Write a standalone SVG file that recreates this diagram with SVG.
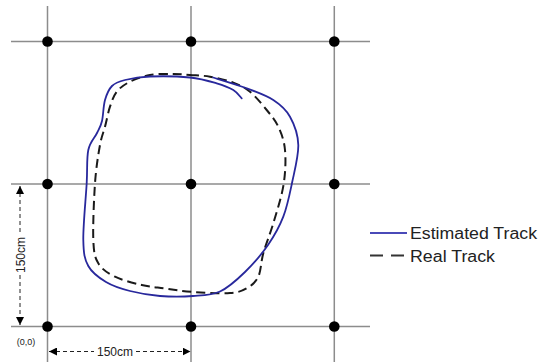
<svg xmlns="http://www.w3.org/2000/svg" width="539" height="362" viewBox="0 0 539 362">
<style>
.grid{stroke:#8c8c8c;stroke-width:1.5;fill:none}
.dot{fill:#000}
.est{stroke:#28289c;stroke-width:1.8;fill:none;stroke-linecap:round}
.real{stroke:#1a1a1a;stroke-width:2;fill:none;stroke-dasharray:9 5}
.dim{stroke:#222;stroke-width:1;fill:none;stroke-dasharray:4 3}
.lbl{font-family:"Liberation Sans",Arial,sans-serif;fill:#222}
</style>
<defs>
<marker id="ah" viewBox="0 0 10 10" refX="10" refY="5" markerWidth="8" markerHeight="8" markerUnits="userSpaceOnUse" orient="auto-start-reverse">
<path d="M0,0 L10,5 L0,10 z" fill="#000"/>
</marker>
</defs>
<rect width="539" height="362" fill="#fff"/>
<g id="grid">
<line class="grid" x1="11" y1="41.5" x2="370" y2="41.5"/>
<line class="grid" x1="11" y1="184" x2="370" y2="184"/>
<line class="grid" x1="11" y1="326.5" x2="370" y2="326.5"/>
<line class="grid" x1="47.5" y1="6" x2="47.5" y2="362"/>
<line class="grid" x1="191" y1="6" x2="191" y2="362"/>
<line class="grid" x1="334.3" y1="6" x2="334.3" y2="362"/>
</g>
<g id="nodes">
<circle id="n00" class="dot" cx="47.5" cy="41.5" r="5.3"/>
<circle id="n01" class="dot" cx="191" cy="41.5" r="5.3"/>
<circle id="n02" class="dot" cx="334.3" cy="41.5" r="5.3"/>
<circle id="n10" class="dot" cx="47.5" cy="184" r="5.3"/>
<circle id="n11" class="dot" cx="191" cy="184" r="5.3"/>
<circle id="n12" class="dot" cx="334.3" cy="184" r="5.3"/>
<circle id="n20" class="dot" cx="47.5" cy="326.5" r="5.3"/>
<circle id="n21" class="dot" cx="191" cy="326.5" r="5.3"/>
<circle id="n22" class="dot" cx="334.3" cy="326.5" r="5.3"/>
</g>
<g id="tracks">
<path id="real-track" class="real" d="M190,75 C196.1,75.5 202.8,75.4 210,76.7 C217.2,78 226.6,80.2 233.3,82.7 C240,85.2 244.4,87.2 250,91.7 C255.6,96.3 262,104.2 266.7,110 C271.4,115.8 275.3,120 278.3,126.7 C281.4,133.4 284.1,140.3 285,150 C285.9,159.7 285.5,172.8 283.5,185 C281.5,197.2 276.7,211.9 273.3,223.3 C269.9,234.7 265.8,244.4 263.3,253.3 C260.8,262.2 261.1,270.9 258.3,276.7 C255.5,282.5 251.4,285.6 246.7,288.3 C242,291 238.9,292.4 230,293 C221.1,293.6 204.1,292.8 193.3,292 C182.5,291.2 173.6,289.7 165,288.5 C156.4,287.3 150,287 141.7,285 C133.4,283 122.2,280.3 115,276.7 C107.8,273.1 101.9,269.4 98.3,263.3 C94.7,257.2 93.9,253.3 93.3,240 C92.8,226.7 93.9,199.1 95,183.3 C96.1,167.5 98.3,154.4 100,145 C101.7,135.6 103.3,133.1 105,126.7 C106.7,120.3 108,112.5 110,106.7 C112,100.9 113.4,95.9 116.7,91.7 C120,87.5 124.5,84.5 130,81.7 C135.6,78.9 142.8,76.3 150,75 C157.2,73.7 166.6,74 173.3,74 C180,74 183.9,74.550 190,75 Z"/>
<path id="estimated-track" class="est" d="M213,77.5 C218.6,79.3 236.6,84.6 246.7,88.3 C256.8,92.1 266.1,95.3 273.3,100 C280.5,104.7 285.8,109.2 290,116.7 C294.2,124.2 298,134 298.3,145 C298.6,156 294.5,171 292,183 C289.5,195 287.3,206.4 283.3,216.7 C279.3,227 274.4,235.8 268,245 C261.6,254.2 253,264.3 245,272 C237,279.8 228.7,287.5 220,291.5 C211.3,295.5 203,295.3 193,296 C183,296.8 170.5,296.8 160,296 C149.5,295.2 139,293.3 130,291 C121,288.7 113,286.2 106,282 C99,277.8 92.1,273 88.3,266 C84.5,259 83.6,253.8 83.3,240 C83,226.2 85.9,198 86.7,183 C87.5,168 86.6,158.3 88.3,150 C90,141.7 94.7,137.8 97,133 C99.3,128.2 100.7,126.5 102,121 C103.3,115.5 103.3,105.8 105,100 C106.7,94.2 108.7,89.3 112,86 C115.3,82.7 118.7,81.6 125,80 C131.3,78.4 139.2,76.9 150,76.5 C160.8,76.1 178.9,76.4 190,77.5 C201.1,78.6 209.5,81.2 216.7,83.3 C223.9,85.4 229.1,87.5 233.3,90 C237.5,92.5 240.3,96.9 241.7,98.3"/>
</g>
<g id="dimensions">
<line class="dim" x1="20" y1="186" x2="20" y2="235" marker-start="url(#ah)"/>
<line class="dim" x1="20" y1="275" x2="20" y2="325" marker-end="url(#ah)"/>
<line class="dim" x1="49" y1="351.5" x2="94" y2="351.5" marker-start="url(#ah)"/>
<line class="dim" x1="136" y1="351.5" x2="190.5" y2="351.5" marker-end="url(#ah)"/>
<text class="lbl" x="115" y="355.5" font-size="12" text-anchor="middle">150cm</text>
<text class="lbl" transform="translate(24.5,255) rotate(-90)" font-size="12" text-anchor="middle">150cm</text>
<text class="lbl" x="26" y="345" font-size="9" text-anchor="middle" fill="#555">(0,0)</text>
</g>
<g id="legend">
<line x1="370" y1="233" x2="407" y2="233" stroke="#4a4ab8" stroke-width="2.2"/>
<text class="lbl" x="410" y="239" font-size="16" textLength="127" lengthAdjust="spacingAndGlyphs">Estimated Track</text>
<line x1="370" y1="255.5" x2="406" y2="255.5" stroke="#333" stroke-width="2.2" stroke-dasharray="13 8"/>
<text class="lbl" x="410" y="261.5" font-size="16" textLength="85" lengthAdjust="spacingAndGlyphs">Real Track</text>
</g>
</svg>
